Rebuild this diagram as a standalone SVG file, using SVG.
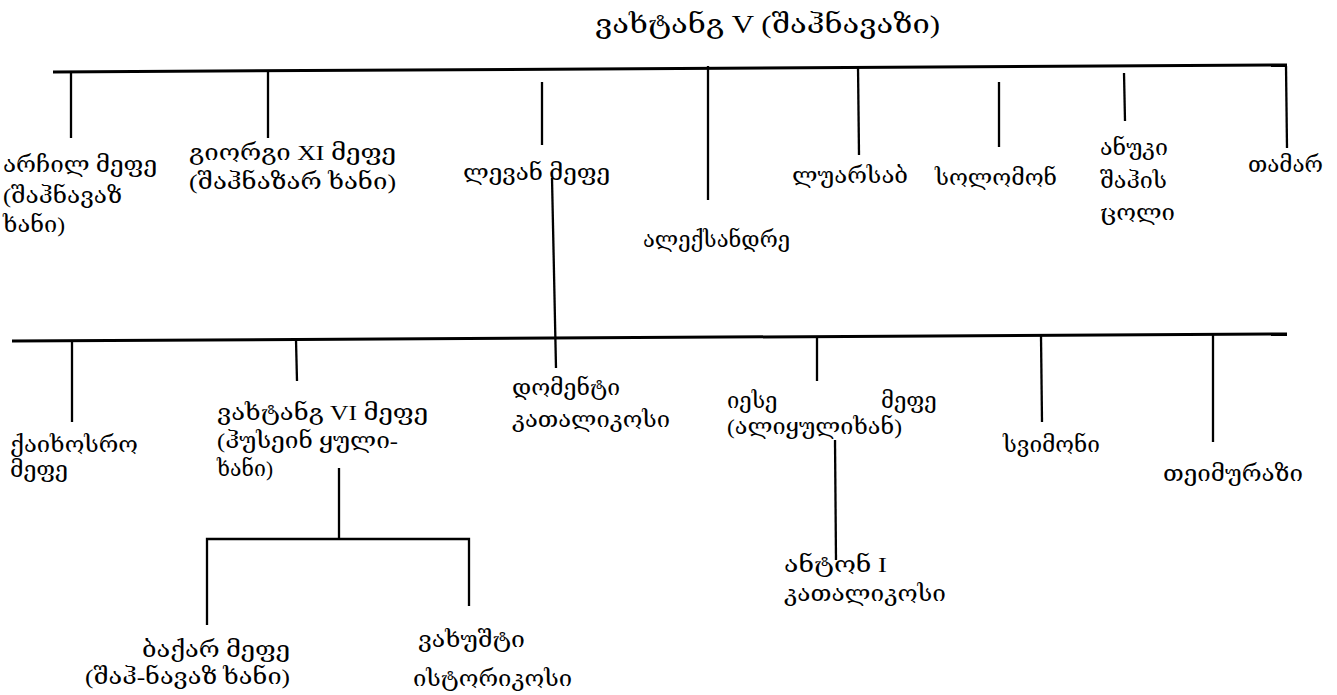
<svg xmlns="http://www.w3.org/2000/svg" width="1337" height="695" viewBox="0 0 1337 695">
<style>
text{font-family:"Liberation Serif","DejaVu Serif","DejaVu Sans",serif;font-size:22px;fill:#000}
.title{font-size:26px}
.h{stroke:#000;stroke-width:3;fill:none}
.v{stroke:#000;stroke-width:2.3;fill:none}
</style>
<rect width="1337" height="695" fill="#fff"/>
<g id="connectors">
<line class="h" x1="53" y1="72" x2="1287" y2="65"/>
<line class="v" x1="71" y1="71" x2="71" y2="138"/>
<line class="v" x1="268" y1="71" x2="268" y2="138"/>
<line class="v" x1="542" y1="82" x2="542" y2="145"/>
<line class="v" x1="552" y1="178" x2="556" y2="368"/>
<line class="v" x1="708" y1="66" x2="708" y2="200"/>
<line class="v" x1="858" y1="66" x2="859" y2="155"/>
<line class="v" x1="999" y1="82" x2="999" y2="147"/>
<line class="v" x1="1124" y1="73" x2="1125" y2="121"/>
<line class="v" x1="1286" y1="66" x2="1287" y2="148"/>
<line class="h" x1="12" y1="341" x2="1287" y2="334"/>
<line class="v" x1="72" y1="341" x2="72" y2="422"/>
<line class="v" x1="296" y1="340" x2="297" y2="381"/>
<line class="v" x1="817" y1="337" x2="817" y2="381"/>
<line class="v" x1="1041" y1="336" x2="1042" y2="422"/>
<line class="v" x1="1213" y1="335" x2="1213" y2="442"/>
<line class="v" x1="339" y1="468" x2="339" y2="539"/>
<polyline class="v" points="207,625 207,539 469,539 469,606"/>
<line class="v" x1="835" y1="440" x2="836" y2="560"/>
</g>
<g id="vakhtang5"><text class="title" x="595" y="33" textLength="345" lengthAdjust="spacingAndGlyphs">ვახტანგ V (შაჰნავაზი)</text></g>
<g id="archil"><text x="3" y="172" textLength="154" lengthAdjust="spacingAndGlyphs">არჩილ მეფე</text><text x="3" y="203" textLength="119" lengthAdjust="spacingAndGlyphs">(შაჰნავაზ</text><text x="3" y="232" textLength="62" lengthAdjust="spacingAndGlyphs">ხანი)</text></g>
<g id="giorgi11"><text x="189" y="160" textLength="207" lengthAdjust="spacingAndGlyphs">გიორგი XI მეფე</text><text x="189" y="189" textLength="207" lengthAdjust="spacingAndGlyphs">(შაჰნაზარ ხანი)</text></g>
<g id="levan"><text x="463" y="180" textLength="147" lengthAdjust="spacingAndGlyphs">ლევან მეფე</text></g>
<g id="aleksandre"><text x="643" y="247" textLength="147" lengthAdjust="spacingAndGlyphs">ალექსანდრე</text></g>
<g id="luarsab"><text x="792" y="183" textLength="116" lengthAdjust="spacingAndGlyphs">ლუარსაბ</text></g>
<g id="solomon"><text x="935" y="185" textLength="122" lengthAdjust="spacingAndGlyphs">სოლომონ</text></g>
<g id="anuki"><text x="1100" y="155" textLength="68" lengthAdjust="spacingAndGlyphs">ანუკი</text><text x="1100" y="188" textLength="67" lengthAdjust="spacingAndGlyphs">შაჰის</text><text x="1100" y="220" textLength="75" lengthAdjust="spacingAndGlyphs">ცოლი</text></g>
<g id="tamar"><text x="1248" y="172" textLength="75" lengthAdjust="spacingAndGlyphs">თამარ</text></g>
<g id="kaikhosro"><text x="10" y="452" textLength="128" lengthAdjust="spacingAndGlyphs">ქაიხოსრო</text><text x="10" y="477" textLength="58" lengthAdjust="spacingAndGlyphs">მეფე</text></g>
<g id="vakhtang6"><text x="217" y="420" textLength="211" lengthAdjust="spacingAndGlyphs">ვახტანგ VI მეფე</text><text x="217" y="448" textLength="181" lengthAdjust="spacingAndGlyphs">(ჰუსეინ ყული-</text><text x="217" y="476" textLength="56" lengthAdjust="spacingAndGlyphs">ხანი)</text></g>
<g id="domenti"><text x="512" y="395" textLength="108" lengthAdjust="spacingAndGlyphs">დომენტი</text><text x="512" y="427" textLength="158" lengthAdjust="spacingAndGlyphs">კათალიკოსი</text></g>
<g id="iese"><text y="408"><tspan x="727">იესე</tspan> <tspan x="881">მეფე</tspan></text><text x="727" y="434" textLength="175" lengthAdjust="spacingAndGlyphs">(ალიყულიხან)</text></g>
<g id="svimon"><text x="1003" y="452" textLength="97" lengthAdjust="spacingAndGlyphs">სვიმონი</text></g>
<g id="teimuraz"><text x="1163" y="481" textLength="140" lengthAdjust="spacingAndGlyphs">თეიმურაზი</text></g>
<g id="anton"><text x="784" y="572" textLength="103" lengthAdjust="spacingAndGlyphs">ანტონ I</text><text x="784" y="601" textLength="162" lengthAdjust="spacingAndGlyphs">კათალიკოსი</text></g>
<g id="bakar"><text x="142" y="657" textLength="148" lengthAdjust="spacingAndGlyphs">ბაქარ მეფე</text><text x="85" y="684" textLength="205" lengthAdjust="spacingAndGlyphs">(შაჰ-ნავაზ ხანი)</text></g>
<g id="vakhushti"><text x="418" y="647" textLength="107" lengthAdjust="spacingAndGlyphs">ვახუშტი</text><text x="413" y="686" textLength="159" lengthAdjust="spacingAndGlyphs">ისტორიკოსი</text></g>
</svg>
